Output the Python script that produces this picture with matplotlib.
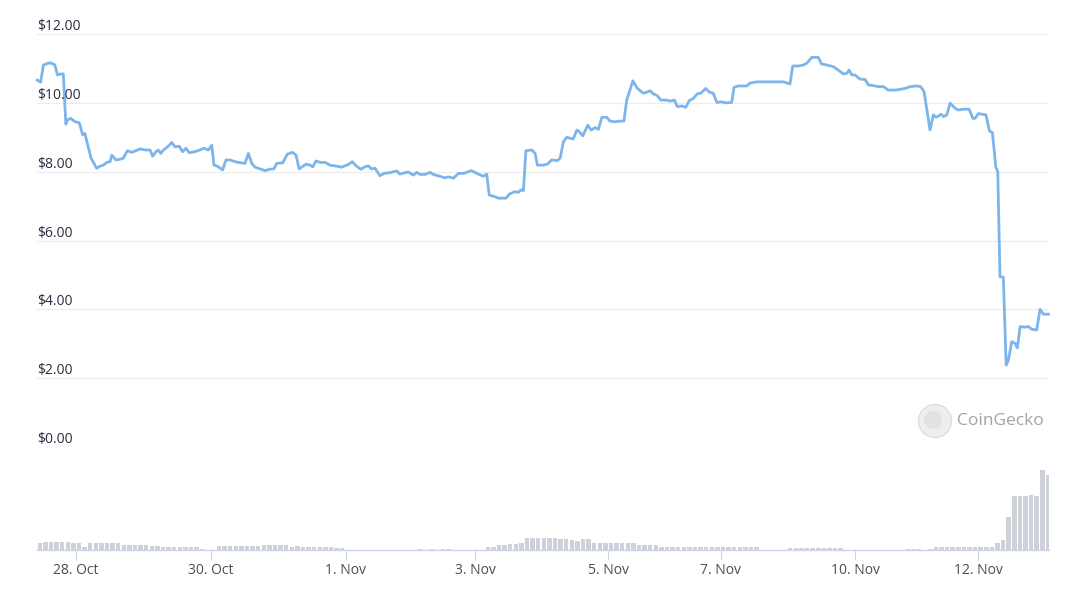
import matplotlib.pyplot as plt
from matplotlib.patches import Circle
from matplotlib.transforms import blended_transform_factory

# price series, hours since the first point
hours = [0.1, 1.3, 2.3, 4.0, 4.9, 6.4, 7.3, 8.5, 9.4, 10.3, 10.8, 12.0, 13.6, 15.1, 16.3, 17.1,
         19.3, 21.3, 22.5, 23.7, 24.9, 26.1, 26.7, 28.2, 29.6, 30.8, 32.3, 33.8, 35.0, 36.8, 38.6,
         40.4, 41.3, 42.5, 43.3, 44.2, 45.1, 46.5, 48.1, 49.3, 50.8, 52.0, 53.2, 54.4, 56.4, 58.2,
         59.6, 61.2, 62.4, 63.2, 64.4, 66.3, 67.5, 68.9, 70.7, 71.9, 74.3, 75.5, 76.7, 77.9, 79.6,
         81.4, 83.2, 84.6, 85.6, 87.8, 89.4, 91.3, 92.5, 93.6, 94.5, 96.1, 97.5, 98.5, 99.6, 101.1,
         102.9, 104.6, 107.0, 108.8, 111.2, 112.6, 113.9, 115.7, 117.1, 118.3, 119.5, 120.7, 122.5,
         123.9, 126.1, 127.3, 128.5, 129.6, 131.4, 132.6, 134.4, 135.6, 136.8, 138.6, 140.4, 141.5,
         143.3, 145.7, 146.9, 148.7, 150.5, 152.3, 153.5, 154.9, 155.8, 157.6, 159.4, 160.6, 161.5,
         163.6, 164.8, 167.5, 168.7, 170.7, 171.9, 172.8, 173.7, 174.6, 176.7, 177.9, 178.7, 180.8,
         182.3, 183.8, 185.8, 186.8, 188.0, 189.2, 190.4, 191.5, 192.8, 193.7, 194.9, 196.7, 197.9,
         199.3, 200.5, 201.7, 203.5, 204.6, 206.4, 208.2, 209.6, 210.6, 212.8, 214.4, 216.5, 217.8,
         218.9, 220.1, 221.5, 222.8, 224.9, 226.1, 227.6, 228.7, 230.3, 231.7, 232.9, 234.4, 235.8,
         237.1, 238.8, 240.1, 241.5, 242.8, 244.5, 245.7, 248.1, 248.9, 250.5, 253.5, 254.6, 257.0,
         266.5, 268.9, 269.9, 271.9, 273.7, 274.9, 276.7, 279.0, 280.2, 282.0, 284.4, 285.8, 288.0,
         289.2, 290.0, 291.0, 292.1, 293.9, 295.7, 296.9, 298.7, 300.5, 302.3, 304.0, 306.4, 308.2,
         310.0, 311.8, 314.2, 315.6, 316.8, 318.9, 320.1, 321.1, 322.9, 323.7, 324.9, 326.1, 327.9,
         329.0, 331.4, 332.9, 334.2, 335.0, 336.2, 337.4, 338.9, 340.1, 341.2, 342.4, 343.1, 343.9,
         345.1, 346.1, 346.9, 348.1, 349.3, 350.1, 351.1, 352.9, 354.0, 355.3, 357.0, 358.2, 359.4,
         361.2]
price = [10.66, 10.60, 11.10, 11.15, 11.16, 11.10, 10.81, 10.84, 10.84, 9.38, 9.50, 9.55, 9.45, 9.42, 9.07, 9.11,
         8.39, 8.10, 8.16, 8.19, 8.27, 8.29, 8.48, 8.34, 8.36, 8.39, 8.61, 8.56, 8.60, 8.66, 8.63,
         8.63, 8.45, 8.58, 8.63, 8.53, 8.63, 8.71, 8.85, 8.72, 8.74, 8.58, 8.68, 8.55, 8.58, 8.63,
         8.68, 8.63, 8.77, 8.19, 8.16, 8.05, 8.34, 8.34, 8.29, 8.27, 8.24, 8.53, 8.24, 8.13, 8.08,
         8.03, 8.07, 8.08, 8.24, 8.26, 8.51, 8.56, 8.48, 8.08, 8.13, 8.22, 8.19, 8.14, 8.31, 8.27,
         8.27, 8.19, 8.16, 8.13, 8.21, 8.29, 8.17, 8.07, 8.14, 8.17, 8.08, 8.10, 7.88,
         7.95, 7.97, 8.00, 8.02, 7.93, 7.97, 7.99, 7.90, 7.98, 7.92, 7.92, 7.98, 7.92,
         7.88, 7.82, 7.85, 7.81, 7.95, 7.95, 7.98, 8.03, 8.00, 7.93, 7.87, 7.93, 7.32,
         7.27, 7.23, 7.23, 7.35, 7.42, 7.40, 7.47, 7.45, 8.61, 8.63, 8.53, 8.19, 8.19,
         8.22, 8.34, 8.32, 8.39, 8.87, 9.00, 8.97, 8.95, 9.21, 9.16, 9.04, 9.35, 9.21,
         9.28, 9.23, 9.58, 9.58, 9.47, 9.45, 9.47, 9.47, 10.08, 10.64, 10.42, 10.28, 10.31,
         10.35, 10.26, 10.21, 10.08, 10.08, 10.05, 10.08, 9.89, 9.91, 9.87, 10.06, 10.13, 10.26,
         10.28, 10.42, 10.31, 10.28, 10.01, 10.03, 10.00, 10.01, 10.45, 10.49, 10.49, 10.57, 10.61,
         10.61, 10.55, 11.07, 11.07, 11.10, 11.15, 11.32, 11.32, 11.13, 11.10, 11.05, 10.97, 10.84,
         10.86, 10.95, 10.81, 10.81, 10.69, 10.68, 10.52, 10.50, 10.47, 10.47, 10.37, 10.37, 10.39,
         10.42, 10.47, 10.49, 10.47, 10.32, 9.21, 9.65, 9.58, 9.67, 9.60, 9.65, 9.99, 9.84,
         9.79, 9.82, 9.81, 9.55, 9.55, 9.69, 9.67, 9.65, 9.19, 9.13, 8.14, 8.00, 4.95,
         4.93, 2.38, 2.53, 3.06, 3.01, 2.88, 3.50, 3.48, 3.50, 3.42, 3.40, 4.00, 3.86,
         3.86]

# volume, one bar per two hours (thousand USD)
vol_hours = list(range(1, 362, 2))
volume = [70, 80, 80, 80, 80, 80, 70, 70, 30, 67, 67, 67, 67, 67, 67, 53, 53, 53, 53, 53,
          43, 43, 30, 30, 30, 30, 30, 30, 30, 10, 0, 0, 43, 43, 43, 43, 43, 43, 43, 43,
          53, 53, 53, 53, 53, 30, 40, 30, 30, 30, 30, 30, 30, 20, 20, 0, 0, 0, 0, 0,
          0, 0, 0, 0, 0, 0, 0, 0, 13, 0, 13, 0, 13, 13, 0, 0, 0, 0, 0, 0,
          33, 33, 47, 47, 60, 60, 73, 120, 120, 120, 120, 120, 120, 110, 110, 103, 93, 107, 107, 73,
          73, 73, 73, 73, 73, 73, 73, 47, 47, 47, 47, 33, 33, 33, 33, 33, 33, 33, 33, 33,
          33, 33, 33, 33, 33, 33, 33, 33, 33, 0, 0, 0, 0, 0, 20, 20, 20, 20, 20, 20,
          20, 20, 20, 20, 0, 0, 0, 0, 0, 0, 0, 0, 0, 0, 0, 10, 10, 10, 0, 10,
          27, 27, 27, 27, 27, 27, 27, 27, 27, 27, 27, 67, 100, 330, 540, 540, 540, 550, 540, 800,
          750]

price_ticks = [0, 2, 4, 6, 8, 10, 12]
date_pos = [13.9, 62.0, 110.3, 156.4, 204.0, 244.2, 292.1, 336.2]
date_labels = ['28. Oct', '30. Oct', '1. Nov', '3. Nov', '5. Nov', '7. Nov', '10. Nov', '12. Nov']

plt.rcParams['font.family'] = ['Open Sans', 'DejaVu Sans']

W, H = 1066, 590
fig = plt.figure(figsize=(W / 100, H / 100), dpi=100)
x0, x1 = 37, 1049

# price panel
ax = fig.add_axes([x0 / W, (H - 447) / H, (x1 - x0) / W, (447 - 34) / H])
ax.set_xlim(0, 361.4)
ax.set_ylim(0, 12)
for v in price_ticks:
    ax.axhline(v, color='#ececec', lw=0.8, zorder=0)
trans = blended_transform_factory(ax.transAxes, ax.transData)
for v in price_ticks:
    ax.text(0, v, f'${v:.2f}', transform=trans, ha='left', va='bottom',
            fontsize=10, color='#2e2b40')
ax.plot(hours, price, color='#7cb5ec', lw=2.0, solid_joinstyle='round', clip_on=False)
ax.axis('off')

# volume panel
axv = fig.add_axes([x0 / W, (H - 550) / H, (x1 - x0) / W, 100 / H])
axv.set_xlim(0, 361.4)
axv.set_ylim(0, 1000)
axv.bar(vol_hours, volume, width=1.6, color='#ced1d7', linewidth=0)
for s in ['top', 'left', 'right']:
    axv.spines[s].set_visible(False)
axv.spines['bottom'].set_color('#ccd6eb')
axv.spines['bottom'].set_linewidth(1)
axv.set_yticks([])
axv.set_xticks(date_pos)
axv.set_xticklabels(date_labels, fontsize=10, color='#4d4d4d')
axv.tick_params(axis='x', length=7.5, width=0.8, color='#ccd6eb', pad=2)

# watermark
fig.add_artist(Circle((9.35, 1.69), 0.165, transform=fig.dpi_scale_trans,
                      facecolor='#eeeeee', edgecolor='#dddddd', lw=1))
fig.add_artist(Circle((9.33, 1.70), 0.09, transform=fig.dpi_scale_trans,
                      facecolor='#e2e2e2', edgecolor='none'))
fig.text(957 / W, (H - 421) / H, 'CoinGecko', fontsize=12.5, color='#a3a3a3',
         ha='left', va='center')

fig.savefig('out.png', dpi=100)
